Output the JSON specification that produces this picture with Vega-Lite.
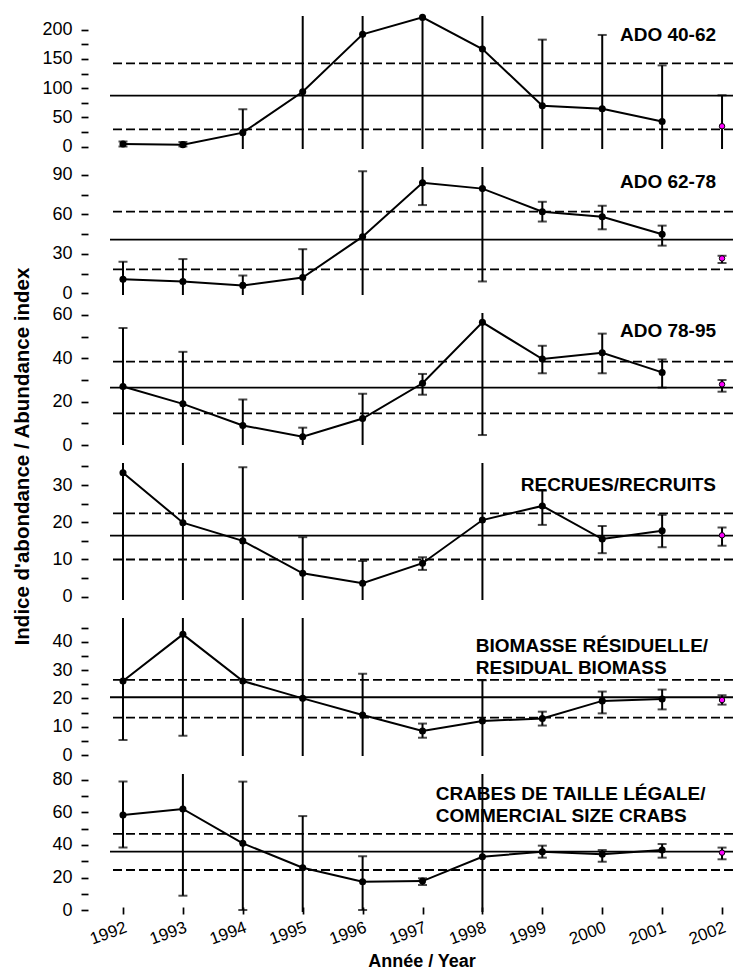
{
  "$schema": "https://vega.github.io/schema/vega-lite/v6.json",
  "autosize": {"type": "none"},
  "padding": {"left": 110, "top": 16, "right": 623, "bottom": 957},
  "background": "white",
  "config": {
    "view": {"stroke": null},
    "font": "Liberation Sans",
    "axis": {"domain": false, "grid": false, "tickColor": "black", "labelColor": "black", "titleColor": "black", "labelFont": "Liberation Sans", "titleFont": "Liberation Sans"},
    "axisY": {"offset": 22, "tickSize": 7, "tickWidth": 1.7, "labelFontSize": 18, "labelPadding": 9, "labelOverlap": false, "labelBound": false, "labelFlush": false, "labelBaseline": "middle"},
    "axisX": {"offset": -5, "tickSize": 7, "tickWidth": 1.7, "labelFontSize": 17, "labelPadding": 5, "labelOverlap": false, "labelBound": false, "labelFlush": false}
  },
  "datasets": {
    "pts": [
      {"panel": "P1", "year": 1992, "value": 4.5, "lower": 0.5, "upper": 9},
      {"panel": "P1", "year": 1993, "value": 3.5, "lower": 0.5, "upper": 8},
      {"panel": "P1", "year": 1994, "value": 24, "lower": -50, "upper": 64},
      {"panel": "P1", "year": 1995, "value": 94, "lower": -50, "upper": 300},
      {"panel": "P1", "year": 1996, "value": 192, "lower": -50, "upper": 300},
      {"panel": "P1", "year": 1997, "value": 221, "lower": -50, "upper": 300},
      {"panel": "P1", "year": 1998, "value": 167, "lower": -50, "upper": 300},
      {"panel": "P1", "year": 1999, "value": 70, "lower": -50, "upper": 183},
      {"panel": "P1", "year": 2000, "value": 65, "lower": -50, "upper": 191},
      {"panel": "P1", "year": 2001, "value": 43, "lower": -50, "upper": 139},
      {"panel": "P1", "year": 2002, "value": 35, "lower": -50, "upper": 88},
      {"panel": "P2", "year": 1992, "value": 10.6, "lower": -20, "upper": 24},
      {"panel": "P2", "year": 1993, "value": 9, "lower": -20, "upper": 26},
      {"panel": "P2", "year": 1994, "value": 6, "lower": -20, "upper": 13.5},
      {"panel": "P2", "year": 1995, "value": 12, "lower": -20, "upper": 33.5},
      {"panel": "P2", "year": 1996, "value": 43, "lower": -20, "upper": 92.6},
      {"panel": "P2", "year": 1997, "value": 84, "lower": 67, "upper": 200},
      {"panel": "P2", "year": 1998, "value": 79.5, "lower": 9, "upper": 200},
      {"panel": "P2", "year": 1999, "value": 62, "lower": 54.5, "upper": 69.5},
      {"panel": "P2", "year": 2000, "value": 58.2, "lower": 48.6, "upper": 66.5},
      {"panel": "P2", "year": 2001, "value": 44.8, "lower": 36.2, "upper": 51.4},
      {"panel": "P2", "year": 2002, "value": 26.5, "lower": 23, "upper": 28.5},
      {"panel": "P3", "year": 1992, "value": 27, "lower": -20, "upper": 54},
      {"panel": "P3", "year": 1993, "value": 19, "lower": -20, "upper": 43},
      {"panel": "P3", "year": 1994, "value": 9, "lower": -20, "upper": 21},
      {"panel": "P3", "year": 1995, "value": 3.8, "lower": -20, "upper": 8},
      {"panel": "P3", "year": 1996, "value": 12.2, "lower": -20, "upper": 23.7},
      {"panel": "P3", "year": 1997, "value": 28.5, "lower": 23.2, "upper": 32.8},
      {"panel": "P3", "year": 1998, "value": 56.6, "lower": 4.6, "upper": 100},
      {"panel": "P3", "year": 1999, "value": 39.7, "lower": 33.1, "upper": 45.8},
      {"panel": "P3", "year": 2000, "value": 42.6, "lower": 33.1, "upper": 51.4},
      {"panel": "P3", "year": 2001, "value": 33.5, "lower": 26.5, "upper": 39.5},
      {"panel": "P3", "year": 2002, "value": 28, "lower": 24.6, "upper": 30},
      {"panel": "P4", "year": 1992, "value": 33.3, "lower": -20, "upper": 60},
      {"panel": "P4", "year": 1993, "value": 19.9, "lower": -20, "upper": 60},
      {"panel": "P4", "year": 1994, "value": 15, "lower": -20, "upper": 34.8},
      {"panel": "P4", "year": 1995, "value": 6.3, "lower": -20, "upper": 16},
      {"panel": "P4", "year": 1996, "value": 3.6, "lower": -20, "upper": 9.6},
      {"panel": "P4", "year": 1997, "value": 9, "lower": 7.2, "upper": 10.6},
      {"panel": "P4", "year": 1998, "value": 20.6, "lower": -20, "upper": 60},
      {"panel": "P4", "year": 1999, "value": 24.4, "lower": 19.3, "upper": 28.5},
      {"panel": "P4", "year": 2000, "value": 15.5, "lower": 11.7, "upper": 19},
      {"panel": "P4", "year": 2001, "value": 17.7, "lower": 13.3, "upper": 22},
      {"panel": "P4", "year": 2002, "value": 16.5, "lower": 13.7, "upper": 18.6},
      {"panel": "P5", "year": 1992, "value": 26.1, "lower": 5.3, "upper": 80},
      {"panel": "P5", "year": 1993, "value": 42.6, "lower": 6.8, "upper": 80},
      {"panel": "P5", "year": 1994, "value": 26.1, "lower": -20, "upper": 80},
      {"panel": "P5", "year": 1995, "value": 20, "lower": -20, "upper": 80},
      {"panel": "P5", "year": 1996, "value": 14.1, "lower": -20, "upper": 28.7},
      {"panel": "P5", "year": 1997, "value": 8.5, "lower": 6.1, "upper": 11.1},
      {"panel": "P5", "year": 1998, "value": 12, "lower": -20, "upper": 26.4},
      {"panel": "P5", "year": 1999, "value": 12.9, "lower": 10.4, "upper": 15.3},
      {"panel": "P5", "year": 2000, "value": 19.1, "lower": 14.7, "upper": 22.4},
      {"panel": "P5", "year": 2001, "value": 19.8, "lower": 16.1, "upper": 23.1},
      {"panel": "P5", "year": 2002, "value": 19.4, "lower": 17.8, "upper": 21.1},
      {"panel": "P6", "year": 1992, "value": 58.5, "lower": 38.4, "upper": 79},
      {"panel": "P6", "year": 1993, "value": 62.2, "lower": 8.8, "upper": 150},
      {"panel": "P6", "year": 1994, "value": 41, "lower": 0, "upper": 79},
      {"panel": "P6", "year": 1995, "value": 26, "lower": -20, "upper": 57.8},
      {"panel": "P6", "year": 1996, "value": 17.4, "lower": 0, "upper": 33},
      {"panel": "P6", "year": 1997, "value": 17.8, "lower": 15.4, "upper": 19.5},
      {"panel": "P6", "year": 1998, "value": 32.8, "lower": -20, "upper": 150},
      {"panel": "P6", "year": 1999, "value": 35.9, "lower": 32.2, "upper": 39.6},
      {"panel": "P6", "year": 2000, "value": 34.3, "lower": 29.7, "upper": 36.9},
      {"panel": "P6", "year": 2001, "value": 36.9, "lower": 32.2, "upper": 40.6},
      {"panel": "P6", "year": 2002, "value": 35.3, "lower": 31.2, "upper": 38.4}
    ],
    "refs": [
      {"panel": "P1", "mean": 87.2, "low": 29.7, "high": 142.5},
      {"panel": "P2", "mean": 40.7, "low": 18.2, "high": 62},
      {"panel": "P3", "mean": 26.5, "low": 14.6, "high": 38.5},
      {"panel": "P4", "mean": 16.4, "low": 10, "high": 22.4},
      {"panel": "P5", "mean": 20.4, "low": 13.2, "high": 26.5},
      {"panel": "P6", "mean": 35.9, "low": 24.6, "high": 46.8}
    ]
  },
  "spacing": 18,
  "bounds": "flush",
  "vconcat": [
    {
      "width": 623, "height": 133,
      "layer": [
        {"data": {"name": "refs"}, "transform": [{"filter": "datum.panel=='P1'"}], "mark": {"type": "rule", "color": "black", "strokeWidth": 1.8},
         "encoding": {"y": {"field": "mean", "type": "quantitative", "scale": {"domain": [-3.93, 223.4], "nice": false, "zero": false},
           "axis": {"values": [0, 25, 50, 75, 100, 125, 150, 175, 200], "tickCount": 100, "format": "d", "labelExpr": "datum.value % 50 == 0 ? datum.label : ''", "labelOverlap": false, "title": null}}}},
        {"data": {"name": "refs"}, "transform": [{"filter": "datum.panel=='P1'"}], "mark": {"type": "rule", "color": "black", "strokeWidth": 1.8, "strokeDash": [9, 4]},
         "encoding": {"y": {"field": "low", "type": "quantitative", "scale": {"domain": [-3.93, 223.4], "nice": false, "zero": false}}}},
        {"data": {"name": "refs"}, "transform": [{"filter": "datum.panel=='P1'"}], "mark": {"type": "rule", "color": "black", "strokeWidth": 1.8, "strokeDash": [9, 4]},
         "encoding": {"y": {"field": "high", "type": "quantitative", "scale": {"domain": [-3.93, 223.4], "nice": false, "zero": false}}}},
        {"data": {"name": "pts"}, "transform": [{"filter": "datum.panel=='P1'"}], "mark": {"type": "rule", "color": "black", "strokeWidth": 2, "clip": true},
         "encoding": {"x": {"field": "year", "type": "quantitative", "scale": {"domain": [1991.783, 2002.183], "nice": false, "zero": false}, "axis": null},
           "y": {"field": "lower", "type": "quantitative", "scale": {"domain": [-3.93, 223.4], "nice": false, "zero": false}}, "y2": {"field": "upper"}}},
        {"data": {"name": "pts"}, "transform": [{"filter": "datum.panel=='P1'"}], "mark": {"type": "tick", "orient": "horizontal", "color": "black", "size": 9, "thickness": 2, "clip": true},
         "encoding": {"x": {"field": "year", "type": "quantitative", "scale": {"domain": [1991.783, 2002.183], "nice": false, "zero": false}, "axis": null},
           "y": {"field": "upper", "type": "quantitative", "scale": {"domain": [-3.93, 223.4], "nice": false, "zero": false}}}},
        {"data": {"name": "pts"}, "transform": [{"filter": "datum.panel=='P1'"}], "mark": {"type": "tick", "orient": "horizontal", "color": "black", "size": 9, "thickness": 2, "clip": true},
         "encoding": {"x": {"field": "year", "type": "quantitative", "scale": {"domain": [1991.783, 2002.183], "nice": false, "zero": false}, "axis": null},
           "y": {"field": "lower", "type": "quantitative", "scale": {"domain": [-3.93, 223.4], "nice": false, "zero": false}}}},
        {"data": {"name": "pts"}, "transform": [{"filter": "datum.panel=='P1' && datum.year <= 2001"}], "mark": {"type": "line", "color": "black", "strokeWidth": 2},
         "encoding": {"x": {"field": "year", "type": "quantitative", "scale": {"domain": [1991.783, 2002.183], "nice": false, "zero": false}, "axis": null},
           "y": {"field": "value", "type": "quantitative", "scale": {"domain": [-3.93, 223.4], "nice": false, "zero": false}}}},
        {"data": {"name": "pts"}, "transform": [{"filter": "datum.panel=='P1' && datum.year <= 2001"}], "mark": {"type": "point", "filled": true, "color": "black", "size": 50, "opacity": 1},
         "encoding": {"x": {"field": "year", "type": "quantitative", "scale": {"domain": [1991.783, 2002.183], "nice": false, "zero": false}, "axis": null},
           "y": {"field": "value", "type": "quantitative", "scale": {"domain": [-3.93, 223.4], "nice": false, "zero": false}}}},
        {"data": {"name": "pts"}, "transform": [{"filter": "datum.panel=='P1' && datum.year == 2002"}], "mark": {"type": "point", "filled": true, "fill": "#ff00ff", "stroke": "black", "strokeWidth": 1, "size": 30, "opacity": 1},
         "encoding": {"x": {"field": "year", "type": "quantitative", "scale": {"domain": [1991.783, 2002.183], "nice": false, "zero": false}, "axis": null},
           "y": {"field": "value", "type": "quantitative", "scale": {"domain": [-3.93, 223.4], "nice": false, "zero": false}}}},
        {"data": {"values": [{}]}, "mark": {"type": "text", "text": "ADO 40-62", "align": "right", "baseline": "middle", "fontSize": 19, "fontWeight": "bold", "color": "black"},
         "encoding": {"x": {"datum": 2001.9, "type": "quantitative", "scale": {"domain": [1991.783, 2002.183], "nice": false, "zero": false}, "axis": null},
           "y": {"datum": 190.9, "type": "quantitative", "scale": {"domain": [-3.93, 223.4], "nice": false, "zero": false}}}}
      ]
    },
    {
      "width": 623, "height": 128,
      "layer": [
        {"data": {"name": "refs"}, "transform": [{"filter": "datum.panel=='P2'"}], "mark": {"type": "rule", "color": "black", "strokeWidth": 1.8},
         "encoding": {"y": {"field": "mean", "type": "quantitative", "scale": {"domain": [-1.29, 95.92], "nice": false, "zero": false},
           "axis": {"values": [0, 15, 30, 45, 60, 75, 90], "tickCount": 100, "format": "d", "labelExpr": "datum.value % 30 == 0 ? datum.label : ''", "labelOverlap": false, "title": null}}}},
        {"data": {"name": "refs"}, "transform": [{"filter": "datum.panel=='P2'"}], "mark": {"type": "rule", "color": "black", "strokeWidth": 1.8, "strokeDash": [9, 4]},
         "encoding": {"y": {"field": "low", "type": "quantitative", "scale": {"domain": [-1.29, 95.92], "nice": false, "zero": false}}}},
        {"data": {"name": "refs"}, "transform": [{"filter": "datum.panel=='P2'"}], "mark": {"type": "rule", "color": "black", "strokeWidth": 1.8, "strokeDash": [9, 4]},
         "encoding": {"y": {"field": "high", "type": "quantitative", "scale": {"domain": [-1.29, 95.92], "nice": false, "zero": false}}}},
        {"data": {"name": "pts"}, "transform": [{"filter": "datum.panel=='P2'"}], "mark": {"type": "rule", "color": "black", "strokeWidth": 2, "clip": true},
         "encoding": {"x": {"field": "year", "type": "quantitative", "scale": {"domain": [1991.783, 2002.183], "nice": false, "zero": false}, "axis": null},
           "y": {"field": "lower", "type": "quantitative", "scale": {"domain": [-1.29, 95.92], "nice": false, "zero": false}}, "y2": {"field": "upper"}}},
        {"data": {"name": "pts"}, "transform": [{"filter": "datum.panel=='P2'"}], "mark": {"type": "tick", "orient": "horizontal", "color": "black", "size": 9, "thickness": 2, "clip": true},
         "encoding": {"x": {"field": "year", "type": "quantitative", "scale": {"domain": [1991.783, 2002.183], "nice": false, "zero": false}, "axis": null},
           "y": {"field": "upper", "type": "quantitative", "scale": {"domain": [-1.29, 95.92], "nice": false, "zero": false}}}},
        {"data": {"name": "pts"}, "transform": [{"filter": "datum.panel=='P2'"}], "mark": {"type": "tick", "orient": "horizontal", "color": "black", "size": 9, "thickness": 2, "clip": true},
         "encoding": {"x": {"field": "year", "type": "quantitative", "scale": {"domain": [1991.783, 2002.183], "nice": false, "zero": false}, "axis": null},
           "y": {"field": "lower", "type": "quantitative", "scale": {"domain": [-1.29, 95.92], "nice": false, "zero": false}}}},
        {"data": {"name": "pts"}, "transform": [{"filter": "datum.panel=='P2' && datum.year <= 2001"}], "mark": {"type": "line", "color": "black", "strokeWidth": 2},
         "encoding": {"x": {"field": "year", "type": "quantitative", "scale": {"domain": [1991.783, 2002.183], "nice": false, "zero": false}, "axis": null},
           "y": {"field": "value", "type": "quantitative", "scale": {"domain": [-1.29, 95.92], "nice": false, "zero": false}}}},
        {"data": {"name": "pts"}, "transform": [{"filter": "datum.panel=='P2' && datum.year <= 2001"}], "mark": {"type": "point", "filled": true, "color": "black", "size": 50, "opacity": 1},
         "encoding": {"x": {"field": "year", "type": "quantitative", "scale": {"domain": [1991.783, 2002.183], "nice": false, "zero": false}, "axis": null},
           "y": {"field": "value", "type": "quantitative", "scale": {"domain": [-1.29, 95.92], "nice": false, "zero": false}}}},
        {"data": {"name": "pts"}, "transform": [{"filter": "datum.panel=='P2' && datum.year == 2002"}], "mark": {"type": "point", "filled": true, "fill": "#ff00ff", "stroke": "black", "strokeWidth": 1, "size": 30, "opacity": 1},
         "encoding": {"x": {"field": "year", "type": "quantitative", "scale": {"domain": [1991.783, 2002.183], "nice": false, "zero": false}, "axis": null},
           "y": {"field": "value", "type": "quantitative", "scale": {"domain": [-1.29, 95.92], "nice": false, "zero": false}}}},
        {"data": {"values": [{}]}, "mark": {"type": "text", "text": "ADO 62-78", "align": "right", "baseline": "middle", "fontSize": 19, "fontWeight": "bold", "color": "black"},
         "encoding": {"x": {"datum": 2001.9, "type": "quantitative", "scale": {"domain": [1991.783, 2002.183], "nice": false, "zero": false}, "axis": null},
           "y": {"datum": 84.8, "type": "quantitative", "scale": {"domain": [-1.29, 95.92], "nice": false, "zero": false}}}}
      ]
    },
    {
      "width": 623, "height": 132,
      "layer": [
        {"data": {"name": "refs"}, "transform": [{"filter": "datum.panel=='P3'"}], "mark": {"type": "rule", "color": "black", "strokeWidth": 1.8},
         "encoding": {"y": {"field": "mean", "type": "quantitative", "scale": {"domain": [0, 60.92], "nice": false, "zero": false},
           "axis": {"values": [0, 10, 20, 30, 40, 50, 60], "tickCount": 100, "format": "d", "labelExpr": "datum.value % 20 == 0 ? datum.label : ''", "labelOverlap": false, "title": null}}}},
        {"data": {"name": "refs"}, "transform": [{"filter": "datum.panel=='P3'"}], "mark": {"type": "rule", "color": "black", "strokeWidth": 1.8, "strokeDash": [9, 4]},
         "encoding": {"y": {"field": "low", "type": "quantitative", "scale": {"domain": [0, 60.92], "nice": false, "zero": false}}}},
        {"data": {"name": "refs"}, "transform": [{"filter": "datum.panel=='P3'"}], "mark": {"type": "rule", "color": "black", "strokeWidth": 1.8, "strokeDash": [9, 4]},
         "encoding": {"y": {"field": "high", "type": "quantitative", "scale": {"domain": [0, 60.92], "nice": false, "zero": false}}}},
        {"data": {"name": "pts"}, "transform": [{"filter": "datum.panel=='P3'"}], "mark": {"type": "rule", "color": "black", "strokeWidth": 2, "clip": true},
         "encoding": {"x": {"field": "year", "type": "quantitative", "scale": {"domain": [1991.783, 2002.183], "nice": false, "zero": false}, "axis": null},
           "y": {"field": "lower", "type": "quantitative", "scale": {"domain": [0, 60.92], "nice": false, "zero": false}}, "y2": {"field": "upper"}}},
        {"data": {"name": "pts"}, "transform": [{"filter": "datum.panel=='P3'"}], "mark": {"type": "tick", "orient": "horizontal", "color": "black", "size": 9, "thickness": 2, "clip": true},
         "encoding": {"x": {"field": "year", "type": "quantitative", "scale": {"domain": [1991.783, 2002.183], "nice": false, "zero": false}, "axis": null},
           "y": {"field": "upper", "type": "quantitative", "scale": {"domain": [0, 60.92], "nice": false, "zero": false}}}},
        {"data": {"name": "pts"}, "transform": [{"filter": "datum.panel=='P3'"}], "mark": {"type": "tick", "orient": "horizontal", "color": "black", "size": 9, "thickness": 2, "clip": true},
         "encoding": {"x": {"field": "year", "type": "quantitative", "scale": {"domain": [1991.783, 2002.183], "nice": false, "zero": false}, "axis": null},
           "y": {"field": "lower", "type": "quantitative", "scale": {"domain": [0, 60.92], "nice": false, "zero": false}}}},
        {"data": {"name": "pts"}, "transform": [{"filter": "datum.panel=='P3' && datum.year <= 2001"}], "mark": {"type": "line", "color": "black", "strokeWidth": 2},
         "encoding": {"x": {"field": "year", "type": "quantitative", "scale": {"domain": [1991.783, 2002.183], "nice": false, "zero": false}, "axis": null},
           "y": {"field": "value", "type": "quantitative", "scale": {"domain": [0, 60.92], "nice": false, "zero": false}}}},
        {"data": {"name": "pts"}, "transform": [{"filter": "datum.panel=='P3' && datum.year <= 2001"}], "mark": {"type": "point", "filled": true, "color": "black", "size": 50, "opacity": 1},
         "encoding": {"x": {"field": "year", "type": "quantitative", "scale": {"domain": [1991.783, 2002.183], "nice": false, "zero": false}, "axis": null},
           "y": {"field": "value", "type": "quantitative", "scale": {"domain": [0, 60.92], "nice": false, "zero": false}}}},
        {"data": {"name": "pts"}, "transform": [{"filter": "datum.panel=='P3' && datum.year == 2002"}], "mark": {"type": "point", "filled": true, "fill": "#ff00ff", "stroke": "black", "strokeWidth": 1, "size": 30, "opacity": 1},
         "encoding": {"x": {"field": "year", "type": "quantitative", "scale": {"domain": [1991.783, 2002.183], "nice": false, "zero": false}, "axis": null},
           "y": {"field": "value", "type": "quantitative", "scale": {"domain": [0, 60.92], "nice": false, "zero": false}}}},
        {"data": {"values": [{}]}, "mark": {"type": "text", "text": "ADO 78-95", "align": "right", "baseline": "middle", "fontSize": 19, "fontWeight": "bold", "color": "black"},
         "encoding": {"x": {"datum": 2001.9, "type": "quantitative", "scale": {"domain": [1991.783, 2002.183], "nice": false, "zero": false}, "axis": null},
           "y": {"datum": 52.8, "type": "quantitative", "scale": {"domain": [0, 60.92], "nice": false, "zero": false}}}}
      ]
    },
    {
      "width": 623, "height": 137,
      "layer": [
        {"data": {"name": "refs"}, "transform": [{"filter": "datum.panel=='P4'"}], "mark": {"type": "rule", "color": "black", "strokeWidth": 1.8},
         "encoding": {"y": {"field": "mean", "type": "quantitative", "scale": {"domain": [-0.89, 35.94], "nice": false, "zero": false},
           "axis": {"values": [0, 5, 10, 15, 20, 25, 30, 35], "tickCount": 100, "format": "d", "labelExpr": "datum.value % 10 == 0 ? datum.label : ''", "labelOverlap": false,
             "title": "Indice d'abondance / Abundance index", "titleFontSize": 20.5, "titleFontWeight": "bold", "titleAngle": -90, "titleAlign": "center", "titleBaseline": "middle", "titleX": -66, "titleY": -7}}}},
        {"data": {"name": "refs"}, "transform": [{"filter": "datum.panel=='P4'"}], "mark": {"type": "rule", "color": "black", "strokeWidth": 1.8, "strokeDash": [9, 4]},
         "encoding": {"y": {"field": "low", "type": "quantitative", "scale": {"domain": [-0.89, 35.94], "nice": false, "zero": false}}}},
        {"data": {"name": "refs"}, "transform": [{"filter": "datum.panel=='P4'"}], "mark": {"type": "rule", "color": "black", "strokeWidth": 1.8, "strokeDash": [9, 4]},
         "encoding": {"y": {"field": "high", "type": "quantitative", "scale": {"domain": [-0.89, 35.94], "nice": false, "zero": false}}}},
        {"data": {"name": "pts"}, "transform": [{"filter": "datum.panel=='P4'"}], "mark": {"type": "rule", "color": "black", "strokeWidth": 2, "clip": true},
         "encoding": {"x": {"field": "year", "type": "quantitative", "scale": {"domain": [1991.783, 2002.183], "nice": false, "zero": false}, "axis": null},
           "y": {"field": "lower", "type": "quantitative", "scale": {"domain": [-0.89, 35.94], "nice": false, "zero": false}}, "y2": {"field": "upper"}}},
        {"data": {"name": "pts"}, "transform": [{"filter": "datum.panel=='P4'"}], "mark": {"type": "tick", "orient": "horizontal", "color": "black", "size": 9, "thickness": 2, "clip": true},
         "encoding": {"x": {"field": "year", "type": "quantitative", "scale": {"domain": [1991.783, 2002.183], "nice": false, "zero": false}, "axis": null},
           "y": {"field": "upper", "type": "quantitative", "scale": {"domain": [-0.89, 35.94], "nice": false, "zero": false}}}},
        {"data": {"name": "pts"}, "transform": [{"filter": "datum.panel=='P4'"}], "mark": {"type": "tick", "orient": "horizontal", "color": "black", "size": 9, "thickness": 2, "clip": true},
         "encoding": {"x": {"field": "year", "type": "quantitative", "scale": {"domain": [1991.783, 2002.183], "nice": false, "zero": false}, "axis": null},
           "y": {"field": "lower", "type": "quantitative", "scale": {"domain": [-0.89, 35.94], "nice": false, "zero": false}}}},
        {"data": {"name": "pts"}, "transform": [{"filter": "datum.panel=='P4' && datum.year <= 2001"}], "mark": {"type": "line", "color": "black", "strokeWidth": 2},
         "encoding": {"x": {"field": "year", "type": "quantitative", "scale": {"domain": [1991.783, 2002.183], "nice": false, "zero": false}, "axis": null},
           "y": {"field": "value", "type": "quantitative", "scale": {"domain": [-0.89, 35.94], "nice": false, "zero": false}}}},
        {"data": {"name": "pts"}, "transform": [{"filter": "datum.panel=='P4' && datum.year <= 2001"}], "mark": {"type": "point", "filled": true, "color": "black", "size": 50, "opacity": 1},
         "encoding": {"x": {"field": "year", "type": "quantitative", "scale": {"domain": [1991.783, 2002.183], "nice": false, "zero": false}, "axis": null},
           "y": {"field": "value", "type": "quantitative", "scale": {"domain": [-0.89, 35.94], "nice": false, "zero": false}}}},
        {"data": {"name": "pts"}, "transform": [{"filter": "datum.panel=='P4' && datum.year == 2002"}], "mark": {"type": "point", "filled": true, "fill": "#ff00ff", "stroke": "black", "strokeWidth": 1, "size": 30, "opacity": 1},
         "encoding": {"x": {"field": "year", "type": "quantitative", "scale": {"domain": [1991.783, 2002.183], "nice": false, "zero": false}, "axis": null},
           "y": {"field": "value", "type": "quantitative", "scale": {"domain": [-0.89, 35.94], "nice": false, "zero": false}}}},
        {"data": {"values": [{}]}, "mark": {"type": "text", "text": "RECRUES/RECRUITS", "align": "right", "baseline": "middle", "fontSize": 19, "fontWeight": "bold", "color": "black"},
         "encoding": {"x": {"datum": 2001.9, "type": "quantitative", "scale": {"domain": [1991.783, 2002.183], "nice": false, "zero": false}, "axis": null},
           "y": {"datum": 30.0, "type": "quantitative", "scale": {"domain": [-0.89, 35.94], "nice": false, "zero": false}}}}
      ]
    },
    {
      "width": 623, "height": 138,
      "layer": [
        {"data": {"name": "refs"}, "transform": [{"filter": "datum.panel=='P5'"}], "mark": {"type": "rule", "color": "black", "strokeWidth": 1.8},
         "encoding": {"y": {"field": "mean", "type": "quantitative", "scale": {"domain": [-0.35, 48.37], "nice": false, "zero": false},
           "axis": {"values": [0, 5, 10, 15, 20, 25, 30, 35, 40, 45], "tickCount": 100, "format": "d", "labelExpr": "datum.value % 10 == 0 ? datum.label : ''", "labelOverlap": false, "title": null}}}},
        {"data": {"name": "refs"}, "transform": [{"filter": "datum.panel=='P5'"}], "mark": {"type": "rule", "color": "black", "strokeWidth": 1.8, "strokeDash": [9, 4]},
         "encoding": {"y": {"field": "low", "type": "quantitative", "scale": {"domain": [-0.35, 48.37], "nice": false, "zero": false}}}},
        {"data": {"name": "refs"}, "transform": [{"filter": "datum.panel=='P5'"}], "mark": {"type": "rule", "color": "black", "strokeWidth": 1.8, "strokeDash": [9, 4]},
         "encoding": {"y": {"field": "high", "type": "quantitative", "scale": {"domain": [-0.35, 48.37], "nice": false, "zero": false}}}},
        {"data": {"name": "pts"}, "transform": [{"filter": "datum.panel=='P5'"}], "mark": {"type": "rule", "color": "black", "strokeWidth": 2, "clip": true},
         "encoding": {"x": {"field": "year", "type": "quantitative", "scale": {"domain": [1991.783, 2002.183], "nice": false, "zero": false}, "axis": null},
           "y": {"field": "lower", "type": "quantitative", "scale": {"domain": [-0.35, 48.37], "nice": false, "zero": false}}, "y2": {"field": "upper"}}},
        {"data": {"name": "pts"}, "transform": [{"filter": "datum.panel=='P5'"}], "mark": {"type": "tick", "orient": "horizontal", "color": "black", "size": 9, "thickness": 2, "clip": true},
         "encoding": {"x": {"field": "year", "type": "quantitative", "scale": {"domain": [1991.783, 2002.183], "nice": false, "zero": false}, "axis": null},
           "y": {"field": "upper", "type": "quantitative", "scale": {"domain": [-0.35, 48.37], "nice": false, "zero": false}}}},
        {"data": {"name": "pts"}, "transform": [{"filter": "datum.panel=='P5'"}], "mark": {"type": "tick", "orient": "horizontal", "color": "black", "size": 9, "thickness": 2, "clip": true},
         "encoding": {"x": {"field": "year", "type": "quantitative", "scale": {"domain": [1991.783, 2002.183], "nice": false, "zero": false}, "axis": null},
           "y": {"field": "lower", "type": "quantitative", "scale": {"domain": [-0.35, 48.37], "nice": false, "zero": false}}}},
        {"data": {"name": "pts"}, "transform": [{"filter": "datum.panel=='P5' && datum.year <= 2001"}], "mark": {"type": "line", "color": "black", "strokeWidth": 2},
         "encoding": {"x": {"field": "year", "type": "quantitative", "scale": {"domain": [1991.783, 2002.183], "nice": false, "zero": false}, "axis": null},
           "y": {"field": "value", "type": "quantitative", "scale": {"domain": [-0.35, 48.37], "nice": false, "zero": false}}}},
        {"data": {"name": "pts"}, "transform": [{"filter": "datum.panel=='P5' && datum.year <= 2001"}], "mark": {"type": "point", "filled": true, "color": "black", "size": 50, "opacity": 1},
         "encoding": {"x": {"field": "year", "type": "quantitative", "scale": {"domain": [1991.783, 2002.183], "nice": false, "zero": false}, "axis": null},
           "y": {"field": "value", "type": "quantitative", "scale": {"domain": [-0.35, 48.37], "nice": false, "zero": false}}}},
        {"data": {"name": "pts"}, "transform": [{"filter": "datum.panel=='P5' && datum.year == 2002"}], "mark": {"type": "point", "filled": true, "fill": "#ff00ff", "stroke": "black", "strokeWidth": 1, "size": 30, "opacity": 1},
         "encoding": {"x": {"field": "year", "type": "quantitative", "scale": {"domain": [1991.783, 2002.183], "nice": false, "zero": false}, "axis": null},
           "y": {"field": "value", "type": "quantitative", "scale": {"domain": [-0.35, 48.37], "nice": false, "zero": false}}}},
        {"data": {"values": [{}]}, "mark": {"type": "text", "text": ["BIOMASSE RÉSIDUELLE/", "RESIDUAL BIOMASS"], "lineHeight": 22, "align": "left", "baseline": "middle", "fontSize": 19, "fontWeight": "bold", "color": "black"},
         "encoding": {"x": {"datum": 1997.89, "type": "quantitative", "scale": {"domain": [1991.783, 2002.183], "nice": false, "zero": false}, "axis": null},
           "y": {"datum": 38.66, "type": "quantitative", "scale": {"domain": [-0.35, 48.37], "nice": false, "zero": false}}}}
      ]
    },
    {
      "width": 623, "height": 138,
      "layer": [
        {"data": {"name": "refs"}, "transform": [{"filter": "datum.panel=='P6'"}], "mark": {"type": "rule", "color": "black", "strokeWidth": 1.8},
         "encoding": {"y": {"field": "mean", "type": "quantitative", "scale": {"domain": [-1.23, 83.69], "nice": false, "zero": false},
           "axis": {"values": [0, 10, 20, 30, 40, 50, 60, 70, 80], "tickCount": 100, "format": "d", "labelExpr": "datum.value % 20 == 0 ? datum.label : ''", "labelOverlap": false, "title": null}}}},
        {"data": {"name": "refs"}, "transform": [{"filter": "datum.panel=='P6'"}], "mark": {"type": "rule", "color": "black", "strokeWidth": 1.8, "strokeDash": [9, 4]},
         "encoding": {"y": {"field": "low", "type": "quantitative", "scale": {"domain": [-1.23, 83.69], "nice": false, "zero": false}}}},
        {"data": {"name": "refs"}, "transform": [{"filter": "datum.panel=='P6'"}], "mark": {"type": "rule", "color": "black", "strokeWidth": 1.8, "strokeDash": [9, 4]},
         "encoding": {"y": {"field": "high", "type": "quantitative", "scale": {"domain": [-1.23, 83.69], "nice": false, "zero": false}}}},
        {"data": {"name": "pts"}, "transform": [{"filter": "datum.panel=='P6'"}], "mark": {"type": "rule", "color": "black", "strokeWidth": 2, "clip": true},
         "encoding": {"x": {"field": "year", "type": "quantitative", "scale": {"domain": [1991.783, 2002.183], "nice": false, "zero": false},
             "axis": {"values": [1992, 1993, 1994, 1995, 1996, 1997, 1998, 1999, 2000, 2001, 2002], "tickCount": 100, "format": "d", "labelAngle": -20, "labelAlign": "right", "labelBaseline": "top", "labelOverlap": false,
               "title": "Année / Year", "titleFontSize": 18, "titleFontWeight": "bold", "titlePadding": 6}},
           "y": {"field": "lower", "type": "quantitative", "scale": {"domain": [-1.23, 83.69], "nice": false, "zero": false}}, "y2": {"field": "upper"}}},
        {"data": {"name": "pts"}, "transform": [{"filter": "datum.panel=='P6'"}], "mark": {"type": "tick", "orient": "horizontal", "color": "black", "size": 9, "thickness": 2, "clip": true},
         "encoding": {"x": {"field": "year", "type": "quantitative", "scale": {"domain": [1991.783, 2002.183], "nice": false, "zero": false}},
           "y": {"field": "upper", "type": "quantitative", "scale": {"domain": [-1.23, 83.69], "nice": false, "zero": false}}}},
        {"data": {"name": "pts"}, "transform": [{"filter": "datum.panel=='P6'"}], "mark": {"type": "tick", "orient": "horizontal", "color": "black", "size": 9, "thickness": 2, "clip": true},
         "encoding": {"x": {"field": "year", "type": "quantitative", "scale": {"domain": [1991.783, 2002.183], "nice": false, "zero": false}},
           "y": {"field": "lower", "type": "quantitative", "scale": {"domain": [-1.23, 83.69], "nice": false, "zero": false}}}},
        {"data": {"name": "pts"}, "transform": [{"filter": "datum.panel=='P6' && datum.year <= 2001"}], "mark": {"type": "line", "color": "black", "strokeWidth": 2},
         "encoding": {"x": {"field": "year", "type": "quantitative", "scale": {"domain": [1991.783, 2002.183], "nice": false, "zero": false}},
           "y": {"field": "value", "type": "quantitative", "scale": {"domain": [-1.23, 83.69], "nice": false, "zero": false}}}},
        {"data": {"name": "pts"}, "transform": [{"filter": "datum.panel=='P6' && datum.year <= 2001"}], "mark": {"type": "point", "filled": true, "color": "black", "size": 50, "opacity": 1},
         "encoding": {"x": {"field": "year", "type": "quantitative", "scale": {"domain": [1991.783, 2002.183], "nice": false, "zero": false}},
           "y": {"field": "value", "type": "quantitative", "scale": {"domain": [-1.23, 83.69], "nice": false, "zero": false}}}},
        {"data": {"name": "pts"}, "transform": [{"filter": "datum.panel=='P6' && datum.year == 2002"}], "mark": {"type": "point", "filled": true, "fill": "#ff00ff", "stroke": "black", "strokeWidth": 1, "size": 30, "opacity": 1},
         "encoding": {"x": {"field": "year", "type": "quantitative", "scale": {"domain": [1991.783, 2002.183], "nice": false, "zero": false}},
           "y": {"field": "value", "type": "quantitative", "scale": {"domain": [-1.23, 83.69], "nice": false, "zero": false}}}},
        {"data": {"values": [{}]}, "mark": {"type": "text", "text": ["CRABES DE TAILLE LÉGALE/", "COMMERCIAL SIZE CRABS"], "lineHeight": 22, "align": "left", "baseline": "middle", "fontSize": 19, "fontWeight": "bold", "color": "black"},
         "encoding": {"x": {"datum": 1997.22, "type": "quantitative", "scale": {"domain": [1991.783, 2002.183], "nice": false, "zero": false}},
           "y": {"datum": 71.3, "type": "quantitative", "scale": {"domain": [-1.23, 83.69], "nice": false, "zero": false}}}}
      ]
    }
  ]
}
